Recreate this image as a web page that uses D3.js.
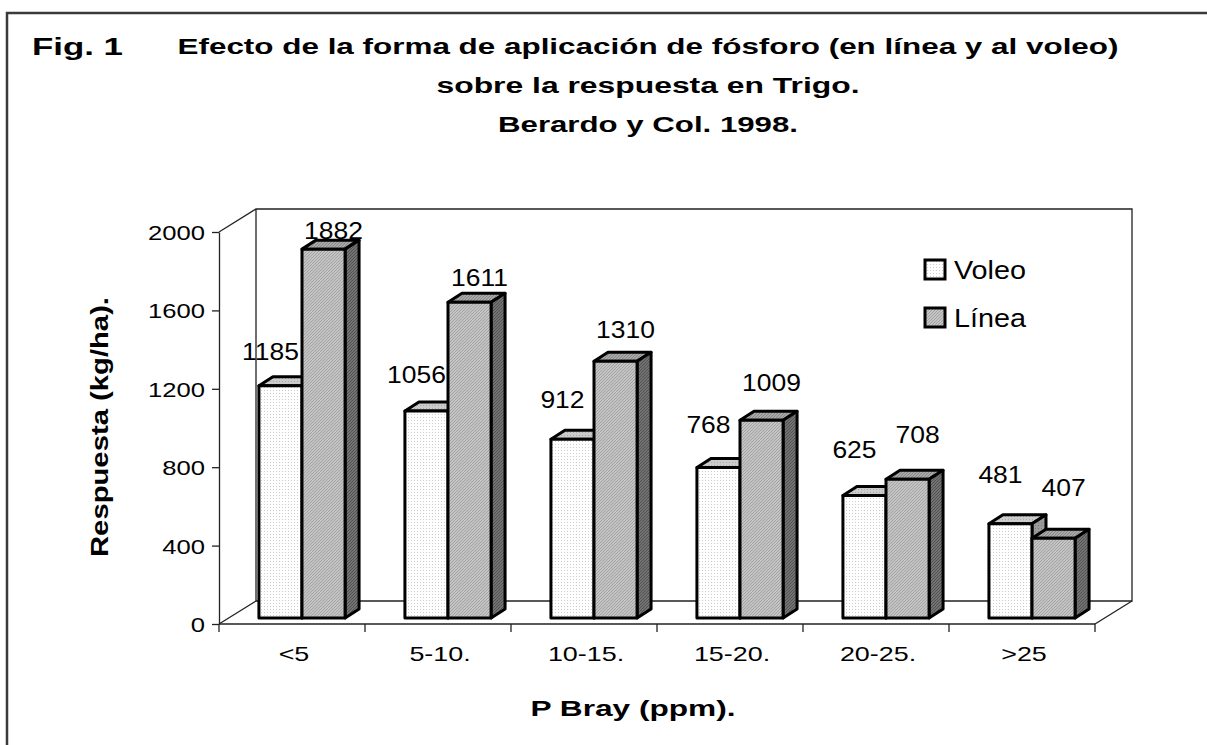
<!DOCTYPE html>
<html><head><meta charset="utf-8">
<script src="https://cdn.jsdelivr.net/npm/d3@7"></script>
<style>
body{margin:0;background:#fff}
svg{display:block}
text{font-family:"Liberation Sans",Arial,Helvetica,sans-serif;fill:#000}
</style>
</head><body>
<svg id="c" width="1207" height="745"></svg>
<script>
// ---- data ----
const categories = ["<5", "5-10.", "10-15.", "15-20.", "20-25.", ">25"];
const seriesNames = ["Voleo", "Línea"];
const voleo = [1185, 1056, 912, 768, 625, 481];
const linea = [1882, 1611, 1310, 1009, 708, 407];
const yTicks = [0, 400, 800, 1200, 1600, 2000];
const titleLines = ["Efecto de la forma de aplicación de fósforo (en línea y al voleo)", "sobre la respuesta en Trigo.", "Berardo y Col. 1998."];
const figLabel = "Fig. 1";
const yTitle = "Respuesta (kg/ha).";
const xTitle = "P Bray (ppm).";

// ---- layout ----
const svg = d3.select("#c");
const X0 = 219, X1 = 1095, YT = 232, YB = 624;
const DX = 37, DY = -23;          // wall depth
const FX = 10, FY = -6;           // bar front plane offset
const BX = 14, BY = -9;           // bar depth

const x = d3.scaleBand().domain(categories).range([X0, X1]).paddingInner(0.41).paddingOuter(0.205);
const xs = d3.scaleBand().domain(seriesNames).range([0, x.bandwidth()]);
const y = d3.scaleLinear().domain([0, 2000]).range([YB, YT]);
const labelY = d3.scaleLinear().domain([0, 2000]).range([567, 218]);

function fitK(sel, k) {
  sel.each(function () {
    const w = this.getComputedTextLength();
    d3.select(this).attr("textLength", w * k).attr("lengthAdjust", "spacingAndGlyphs");
  });
  return sel;
}
function fitW(sel, w) {
  return sel.attr("textLength", w).attr("lengthAdjust", "spacingAndGlyphs");
}

// ---- patterns ----
const defs = svg.append("defs");
function dotPattern(id, bg, dot) {
  const p = defs.append("pattern").attr("id", id).attr("patternUnits", "userSpaceOnUse").attr("width", 3).attr("height", 3);
  p.append("rect").attr("width", 3).attr("height", 3).attr("fill", bg);
  p.append("rect").attr("width", 1).attr("height", 1).attr("fill", dot);
}
function hatchPattern(id, bg, line) {
  const p = defs.append("pattern").attr("id", id).attr("patternUnits", "userSpaceOnUse").attr("width", 3).attr("height", 3);
  p.append("rect").attr("width", 3).attr("height", 3).attr("fill", bg);
  p.append("path").attr("d", "M0,3 L3,0 M-1,1 L1,-1 M2,4 L4,2").attr("stroke", line).attr("stroke-width", 0.8);
}
dotPattern("vFront", "#ffffff", "#cccccc");
dotPattern("vTop", "#cbcbcb", "#a8a8a8");
dotPattern("vSide", "#9a9a9a", "#7a7a7a");
hatchPattern("lFront", "#c4c4c4", "#9a9a9a");
hatchPattern("lTop", "#a8a8a8", "#808080");
hatchPattern("lSide", "#727272", "#4a4a4a");
const fills = {
  "Voleo": {front: "url(#vFront)", top: "url(#vTop)", side: "url(#vSide)"},
  "Línea": {front: "url(#lFront)", top: "url(#lTop)", side: "url(#lSide)"}
};

// ---- outer frame ----
svg.append("rect").attr("x", 7).attr("y", 13).attr("width", 1400).attr("height", 1000)
  .attr("fill", "none").attr("stroke", "#3a3a3a").attr("stroke-width", 2.5);

// ---- titles ----
fitW(svg.append("text").attr("x", 32).attr("y", 55).attr("font-size", 24).attr("font-weight", "bold").text(figLabel), 91);
const tl = svg.append("g").attr("font-weight", "bold").attr("font-size", 22).attr("text-anchor", "middle");
const titleY = [54, 93, 132];
const titleW = [941, 423, 300];
titleLines.forEach((t, i) => fitW(tl.append("text").attr("x", 648).attr("y", titleY[i]).text(t), titleW[i]));

// ---- walls ----
const wall = svg.append("g").attr("fill", "none").attr("stroke", "#222").attr("stroke-width", 1.3);
wall.append("path").attr("d", `M${X0},${YT} L${X0 + DX},${YT + DY} L${X1 + DX},${YT + DY} L${X1 + DX},${YB + DY} L${X0 + DX},${YB + DY} L${X0 + DX},${YT + DY}`);
wall.append("path").attr("d", `M${X0},${YB} L${X0 + DX},${YB + DY} M${X1},${YB} L${X1 + DX},${YB + DY}`);

// ---- y axis ----
const yAxis = svg.append("g").attr("transform", `translate(${X0},0)`)
  .call(d3.axisLeft(y).tickValues(yTicks).tickSize(7).tickSizeOuter(0).tickPadding(7).tickFormat(d3.format("d")));
yAxis.select(".domain").attr("stroke", "#222").attr("stroke-width", 1.3);
yAxis.selectAll(".tick line").attr("stroke", "#222").attr("stroke-width", 1.3);
yAxis.selectAll(".tick text").attr("font-size", 21).attr("font-family", "Liberation Sans, Arial, sans-serif").attr("dy", "0.36em");
fitK(yAxis.selectAll(".tick text"), 1.22);

// ---- x axis ----
const xAxis = svg.append("g").attr("transform", `translate(0,${YB})`)
  .call(d3.axisBottom(x).tickSize(0).tickSizeOuter(0).tickPadding(22));
xAxis.select(".domain").attr("stroke", "#222").attr("stroke-width", 1.3).attr("d", `M${X0},0H${X1}`);
xAxis.selectAll(".tick text").attr("font-size", 21).attr("font-family", "Liberation Sans, Arial, sans-serif").attr("dx", 2);
fitK(xAxis.selectAll(".tick text"), 1.28);
xAxis.selectAll(".bound").data(d3.range(categories.length + 1)).join("line")
  .attr("x1", i => X0 + i * x.step()).attr("x2", i => X0 + i * x.step())
  .attr("y1", 0).attr("y2", 8).attr("stroke", "#222").attr("stroke-width", 1.3);

// ---- axis titles ----
fitW(svg.append("text").attr("transform", "translate(108,427) rotate(-90)").attr("text-anchor", "middle")
  .attr("font-weight", "bold").attr("font-size", 23).text(yTitle), 260);
fitW(svg.append("text").attr("x", 633).attr("y", 716).attr("text-anchor", "middle")
  .attr("font-weight", "bold").attr("font-size", 22).text(xTitle), 205);

// ---- bars data ----
const rows = categories.map((c, i) => ({c, vals: [{s: "Voleo", v: voleo[i]}, {s: "Línea", v: linea[i]}]}));
const labelShift = {"Voleo": -10, "Línea": 10};

// value labels (behind bars)
const lab = svg.append("g").attr("font-size", 23).attr("text-anchor", "middle");
rows.forEach(r => r.vals.forEach(d => {
  const cx = x(r.c) + xs(d.s) + xs.bandwidth() / 2 + FX + labelShift[d.s];
  fitK(lab.append("text").attr("x", cx).attr("y", labelY(d.v)).text(d.v), 1.15);
}));

// bars
const bars = svg.append("g").attr("stroke", "#000").attr("stroke-width", 3).attr("stroke-linejoin", "round");
rows.forEach(r => r.vals.forEach(d => {
  const x0 = x(r.c) + xs(d.s) + FX, x1 = x0 + xs.bandwidth();
  const y0 = y(0) + FY, y1 = y(d.v) + FY;
  const g = bars.append("g");
  g.append("path").attr("fill", fills[d.s].top)
    .attr("d", `M${x0},${y1} L${x0 + BX},${y1 + BY} L${x1 + BX},${y1 + BY} L${x1},${y1} Z`);
  g.append("path").attr("fill", fills[d.s].side)
    .attr("d", `M${x1},${y1} L${x1 + BX},${y1 + BY} L${x1 + BX},${y0 + BY} L${x1},${y0} Z`);
  g.append("rect").attr("fill", fills[d.s].front)
    .attr("x", x0).attr("y", y1).attr("width", x1 - x0).attr("height", y0 - y1);
}));

// ---- legend ----
const leg = svg.append("g");
seriesNames.forEach((s, i) => {
  const ly = 260 + i * 48;
  leg.append("rect").attr("x", 925).attr("y", ly).attr("width", 20).attr("height", 19)
    .attr("fill", fills[s].front).attr("stroke", "#000").attr("stroke-width", 3);
  fitK(leg.append("text").attr("x", 954).attr("y", ly + 19).attr("font-size", 25).text(s), 1.15);
});
</script>
</body></html>
